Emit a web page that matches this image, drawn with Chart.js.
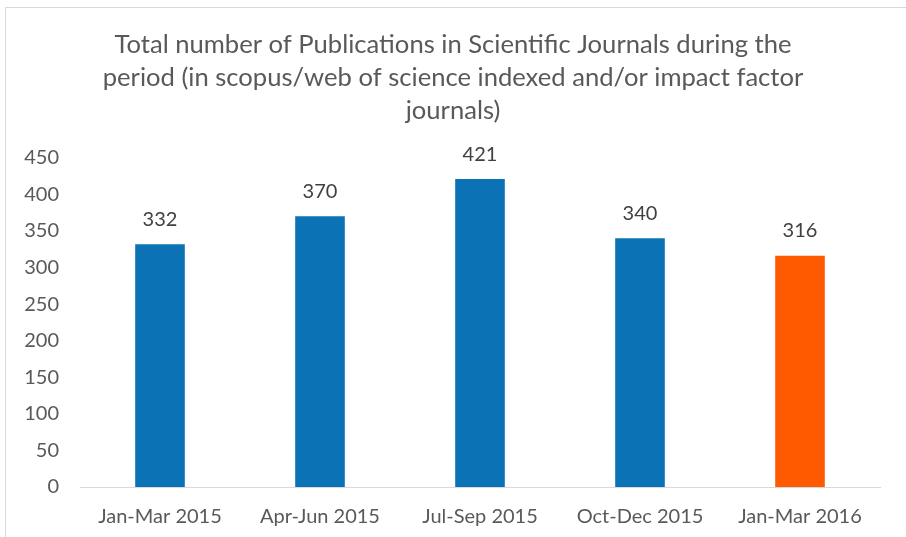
<!DOCTYPE html>
<html>
<head>
<meta charset="utf-8">
<script src="https://cdn.jsdelivr.net/npm/chart.js@4"></script>
<style>
  html, body { margin: 0; padding: 0; background: #fff; }
  #wrap { position: relative; width: 906px; height: 537px; }
  #frame { position: absolute; left: 5px; top: 7px; right: -2px; bottom: -2px; border-left: 1px solid #d9d9d9; border-top: 1px solid #d9d9d9; }
</style>
</head>
<body>
<div id="wrap">
  <div id="frame"></div>
  <canvas id="mainchart" width="906" height="537"></canvas>
</div>
<script>
// quarters and publication counts
var quarters = ['Jan-Mar 2015', 'Apr-Jun 2015', 'Jul-Sep 2015', 'Oct-Dec 2015', 'Jan-Mar 2016'];
var publications = [332, 370, 421, 340, 316];
var barColors = ['#0b72b5', '#0b72b5', '#0b72b5', '#0b72b5', '#ff5a00'];
var yTicks = [0, 50, 100, 150, 200, 250, 300, 350, 400, 450];

var fontFamily = 'Lato, "Open Sans", sans-serif';

// draw the value above each bar
var valueLabels = {
    id: 'valueLabels',
    afterDatasetsDraw: function (chart) {
        var ctx = chart.ctx;
        var meta = chart.getDatasetMeta(0);
        ctx.save();
        ctx.font = '20px ' + fontFamily;
        ctx.fillStyle = '#404040';
        ctx.textAlign = 'center';
        ctx.textBaseline = 'middle';
        meta.data.forEach(function (bar, i) {
            ctx.fillText(publications[i], bar.x, bar.y - 25);
        });
        ctx.restore();
    }
};

Chart.defaults.font.family = fontFamily;
Chart.defaults.color = '#595959';

var chartInstance = new Chart('mainchart', {
    type: 'bar',
    data: {
        labels: quarters,
        datasets: [{
            data: publications,
            backgroundColor: barColors,
            categoryPercentage: 1,
            barPercentage: 0.31
        }]
    },
    options: {
        responsive: false,
        animation: false,
        layout: { padding: 0 },
        plugins: {
            legend: { display: false },
            tooltip: { enabled: false },
            title: {
                display: true,
                text: ['Total number of Publications in Scientific Journals during the',
                       'period (in scopus/web of science indexed and/or impact factor',
                       'journals)'],
                color: '#595959',
                font: { size: 25.6, weight: 'normal', lineHeight: 1.3 },
                padding: { top: 28, bottom: 30 }
            }
        },
        scales: {
            x: {
                afterFit: function (scale) { scale.height = 50; },
                grid: { display: false, drawTicks: false },
                border: { color: '#d9d9d9', width: 1 },
                ticks: { font: { size: 20 }, color: '#595959', padding: 18, maxRotation: 0 }
            },
            y: {
                min: 0,
                max: 450,
                afterBuildTicks: function (scale) {
                    scale.ticks = yTicks.map(function (v) { return { value: v }; });
                },
                afterFit: function (scale) { scale.width = 80; },
                grid: { display: false, drawTicks: false },
                border: { display: false },
                ticks: { font: { size: 20 }, color: '#595959', padding: 21 }
            },
            // empty right-hand axis, only reserves the right margin
            yRight: {
                position: 'right',
                min: 0,
                max: 450,
                afterFit: function (scale) { scale.width = 26; },
                grid: { display: false, drawTicks: false },
                border: { display: false },
                ticks: { display: false }
            }
        }
    },
    plugins: [valueLabels]
});
</script>
</body>
</html>
